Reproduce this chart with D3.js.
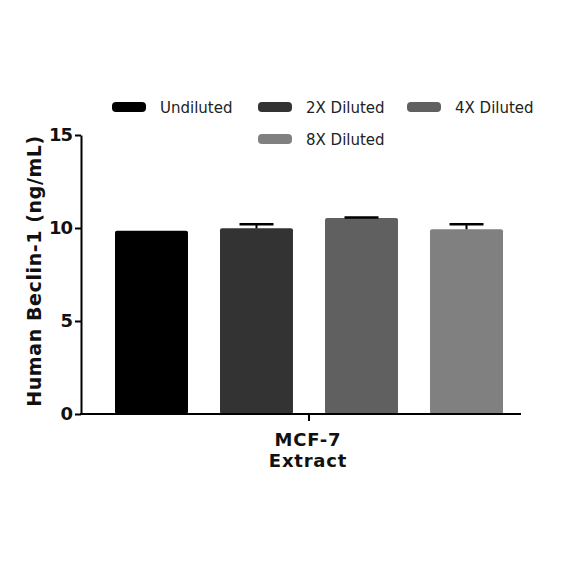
<!DOCTYPE html>
<html><head><meta charset="utf-8">
<script src="https://cdn.jsdelivr.net/npm/d3@7"></script>
<style>body{margin:0;background:#fff}</style>
</head><body>
<svg id="c" width="584" height="584"></svg>
<script>
const categories = ["Undiluted", "2X Diluted", "4X Diluted", "8X Diluted"];
const values = [9.85, 9.98, 10.54, 9.93];
const errors = [0, 0.22, 0.03, 0.27];
const colors = ["#000000", "#333333", "#606060", "#808080"];
const yTicks = [0, 5, 10, 15];
const groupLabel = ["MCF-7", "Extract"];
const yTitle = "Human Beclin-1 (ng/mL)";

const svg = d3.select("#c");
const font = "'DejaVu Sans', sans-serif";
const mLeft = 81, mRight = 521, mTop = 135, mBottom = 414;

const y = d3.scaleLinear().domain([0, 15]).range([mBottom, mTop]);
const x = d3.scaleBand().domain(categories).range([94, 524]).paddingInner(0.305).paddingOuter(0.2);

// bars
svg.selectAll("rect.bar").data(categories).join("rect")
  .attr("x", d => x(d)).attr("width", x.bandwidth())
  .attr("y", (d, i) => y(values[i])).attr("height", (d, i) => y(0) - y(values[i]))
  .attr("rx", 2).attr("fill", (d, i) => colors[i]);

// error bars
categories.forEach((d, i) => {
  if (errors[i] <= 0) return;
  const cx = x(d) + x.bandwidth() / 2;
  svg.append("line").attr("x1", cx).attr("x2", cx)
    .attr("y1", y(values[i])).attr("y2", y(values[i] + errors[i]))
    .attr("stroke", "#000").attr("stroke-width", 2);
  svg.append("line").attr("x1", cx - 17).attr("x2", cx + 17)
    .attr("y1", y(values[i] + errors[i])).attr("y2", y(values[i] + errors[i]))
    .attr("stroke", "#000").attr("stroke-width", 2.5);
});

// y axis
const yAxis = svg.append("g").attr("transform", `translate(${mLeft},0)`)
  .call(d3.axisLeft(y).tickValues(yTicks).tickSize(6).tickPadding(3).tickSizeOuter(0));
yAxis.select(".domain").attr("stroke-width", 2);
yAxis.selectAll(".tick line").attr("stroke-width", 2);
yAxis.selectAll("text").attr("font-family", font).attr("font-weight", "bold")
  .attr("font-size", 18).attr("fill", "#111").attr("letter-spacing", -1);

// x axis
const xAxis = svg.append("g").attr("transform", `translate(0,${mBottom})`);
xAxis.append("line").attr("x1", mLeft - 1).attr("x2", mRight).attr("stroke", "#000").attr("stroke-width", 2);
const cx0 = (x(categories[1]) + x.bandwidth() + x(categories[2])) / 2;
xAxis.append("line").attr("x1", cx0).attr("x2", cx0).attr("y1", 0).attr("y2", 7)
  .attr("stroke", "#000").attr("stroke-width", 2);
groupLabel.forEach((t, i) => {
  svg.append("text").attr("x", cx0 - 1).attr("y", 446 + i * 21).attr("text-anchor", "middle")
    .attr("font-family", font).attr("font-weight", "bold").attr("font-size", 18)
    .attr("letter-spacing", 0.8).attr("fill", "#111").text(t);
});

// y title
svg.append("text").attr("transform", `translate(41,271) rotate(-90)`)
  .attr("text-anchor", "middle").attr("font-family", font).attr("font-weight", "bold")
  .attr("font-size", 19).attr("letter-spacing", 0.6).attr("fill", "#111").text(yTitle);

// legend
const legPos = [[112, 107], [258, 107], [407, 107], [258, 139]];
categories.forEach((d, i) => {
  const [lx, ly] = legPos[i];
  svg.append("rect").attr("x", lx).attr("y", ly - 5).attr("width", 34).attr("height", 10)
    .attr("rx", 4).attr("fill", colors[i]);
  svg.append("text").attr("x", lx + 48).attr("y", ly + 5.5).attr("font-family", font)
    .attr("font-size", 15).attr("fill", "#222").text(d);
});
</script>
</body></html>
